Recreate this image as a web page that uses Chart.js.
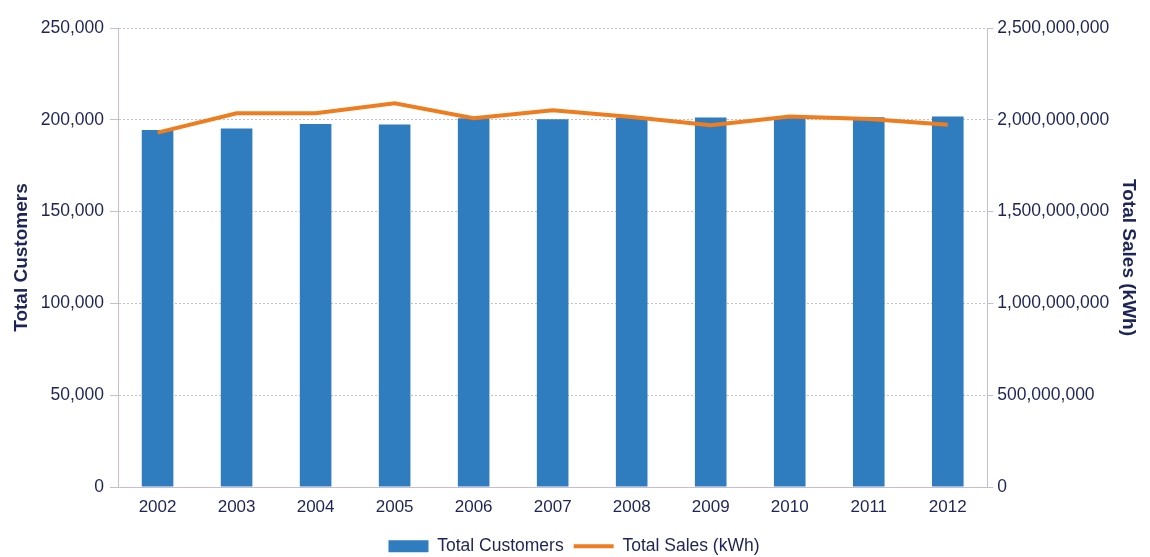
<!DOCTYPE html>
<html>
<head>
<meta charset="utf-8">
<script src="https://cdn.jsdelivr.net/npm/chart.js@4.4.0/dist/chart.umd.min.js"></script>
<style>
  html, body { margin: 0; padding: 0; background: #fff; }
  #wrap { width: 1150px; height: 557px; }
</style>
</head>
<body>
<div id="wrap"><canvas id="chart"></canvas></div>
<script>
// values
const years = ['2002', '2003', '2004', '2005', '2006', '2007', '2008', '2009', '2010', '2011', '2012'];
const totalCustomers = [194500, 195300, 197700, 197400, 200800, 200300, 201000, 201200, 201500, 201400, 201800];
const totalSales = [1930000000, 2036000000, 2036000000, 2090000000, 2009000000, 2052000000, 2015000000, 1971000000, 2018000000, 2004000000, 1973000000];

const textColor = '#1d2458';
const gridColor = '#c8bcd4';
const barColor = '#2f7dbf';
const lineColor = '#ee7d1f';

Chart.defaults.font.family = '"Liberation Sans", Arial, sans-serif';
Chart.defaults.color = textColor;

function fmt(v) {
    return v.toLocaleString('en-US');
}

let ctx = document.getElementById('chart').getContext('2d');
let chart = new Chart(ctx, {
    data: {
        labels: years,
        datasets: [{
            type: 'line',
            label: 'Total Sales (kWh)',
            data: totalSales,
            yAxisID: 'ySales',
            borderColor: lineColor,
            backgroundColor: lineColor,
            borderWidth: 4,
            pointRadius: 0,
            pointStyle: 'line',
            tension: 0,
            order: 1
        }, {
            type: 'bar',
            label: 'Total Customers',
            data: totalCustomers,
            yAxisID: 'yCust',
            backgroundColor: barColor,
            borderWidth: 0,
            pointStyle: 'rect',
            categoryPercentage: 1,
            barPercentage: 0.4,
            order: 2
        }]
    },
    options: {
        responsive: true,
        maintainAspectRatio: false,
        animation: false,
        layout: {
            // legend sits low in the picture, so let it run past the bottom padding
            padding: { top: 28, left: 6, right: 8, bottom: -8 }
        },
        plugins: {
            legend: {
                position: 'bottom',
                reverse: true,
                labels: {
                    usePointStyle: true,
                    pointStyleWidth: 40,
                    boxHeight: 12,
                    padding: 10,
                    font: { size: 17.5 },
                    color: textColor
                }
            },
            tooltip: { enabled: false }
        },
        scales: {
            x: {
                grid: { display: false, drawTicks: false },
                border: { color: gridColor, dash: [2, 2] },
                ticks: { font: { size: 17 }, color: textColor, padding: 10 }
            },
            yCust: {
                position: 'left',
                min: 0,
                max: 250000,
                ticks: {
                    stepSize: 50000,
                    font: { size: 17.5 },
                    color: textColor,
                    padding: 6,
                    callback: fmt
                },
                grid: { color: gridColor, tickLength: 8 },
                border: { color: gridColor, dash: [2, 2] },
                title: {
                    display: true,
                    text: 'Total Customers',
                    font: { size: 19, weight: 'bold' },
                    color: textColor,
                    padding: { bottom: 2 }
                }
            },
            ySales: {
                position: 'right',
                min: 0,
                max: 2500000000,
                ticks: {
                    stepSize: 500000000,
                    font: { size: 17.5 },
                    color: textColor,
                    padding: 4,
                    callback: fmt
                },
                grid: { drawOnChartArea: false, color: gridColor, tickLength: 6 },
                border: { color: gridColor, dash: [2, 2] },
                title: {
                    display: true,
                    text: 'Total Sales (kWh)',
                    font: { size: 19, weight: 'bold' },
                    color: textColor,
                    padding: { top: 2 }
                }
            }
        }
    }
});
// dashed horizontal gridlines
chart.options.scales.yCust.grid.borderDash = [2, 2];
chart.update();
</script>
</body>
</html>
